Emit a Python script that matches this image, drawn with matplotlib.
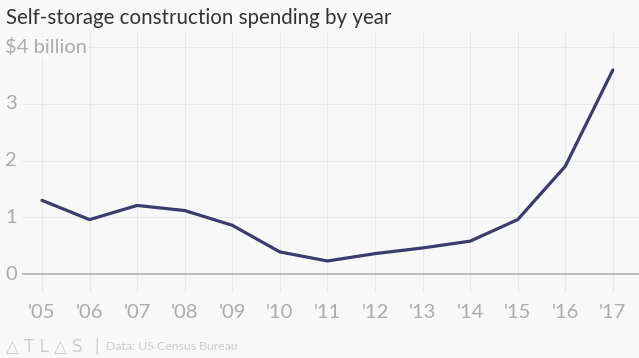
import matplotlib
matplotlib.use('Agg')
import matplotlib.pyplot as plt
from matplotlib.transforms import blended_transform_factory

# data (billions of dollars)
years = list(range(2005, 2018))
tick_labels = ["'05", "'06", "'07", "'08", "'09", "'10", "'11", "'12", "'13", "'14", "'15", "'16", "'17"]
spending = [1.30, 0.96, 1.21, 1.12, 0.86, 0.39, 0.23, 0.36, 0.46, 0.58, 0.96, 1.90, 3.60]
y_ticks = [0, 1, 2, 3, 4]
y_tick_labels = ['0', '1', '2', '3', '$4 billion']

BG = '#f8f8f8'
LINE = '#3b3b6d'
GRID = '#e8e8e8'
TXT = '#acacac'

plt.rcParams['font.family'] = ['Lato', 'DejaVu Sans']

fig = plt.figure(figsize=(6.39, 3.58), dpi=100, facecolor=BG)
ax = fig.add_axes([22 / 639, 1 - 292 / 358, 1 - 22 / 639, (292 - 32) / 358])
ax.set_facecolor(BG)

ax.plot(years, spending, color=LINE, lw=2.3, solid_capstyle='round', zorder=3)

ax.set_xlim(2004.58, 2017.55)
ax.set_ylim(-0.317, 4.27)

for x in years:
    ax.axvline(x, color=GRID, lw=0.8, zorder=0)
for y in y_ticks[1:]:
    ax.axhline(y, color=GRID, lw=0.8, zorder=0)
ax.axhline(0, color='#b0b0b0', lw=1.2, zorder=1)

for s in ax.spines.values():
    s.set_visible(False)
ax.set_xticks(years)
ax.set_xticklabels(tick_labels, fontsize=14.5, color=TXT)
ax.tick_params(axis='x', length=0, pad=9)
ax.set_yticks([])

# y labels drawn in the left margin
ytrans = blended_transform_factory(fig.transFigure, ax.transData)
for v, lab in zip(y_ticks, y_tick_labels):
    ax.text(5 / 639, v, lab, transform=ytrans, ha='left', va='center',
            fontsize=14.5, color=TXT,
            bbox=dict(facecolor=BG, edgecolor='none', pad=1) if v == 4 else None)

fig.text(6 / 639, 1 - 18 / 358, 'Self-storage construction spending by year',
         fontsize=14.8, color='#333333', ha='left', va='center')

fig.text(6 / 639, 1 - 347 / 358, '\u25b3 T L \u25b3 S', fontsize=12, color='#cccccc',
         ha='left', va='center', family='DejaVu Sans')
fig.text(94 / 639, 1 - 347 / 358, '|', fontsize=13, color='#cccccc', ha='left', va='center')
fig.text(106 / 639, 1 - 347 / 358, 'Data: US Census Bureau', fontsize=8.8, color='#cccccc',
         ha='left', va='center')

fig.savefig('out.png', dpi=100, facecolor=BG)
